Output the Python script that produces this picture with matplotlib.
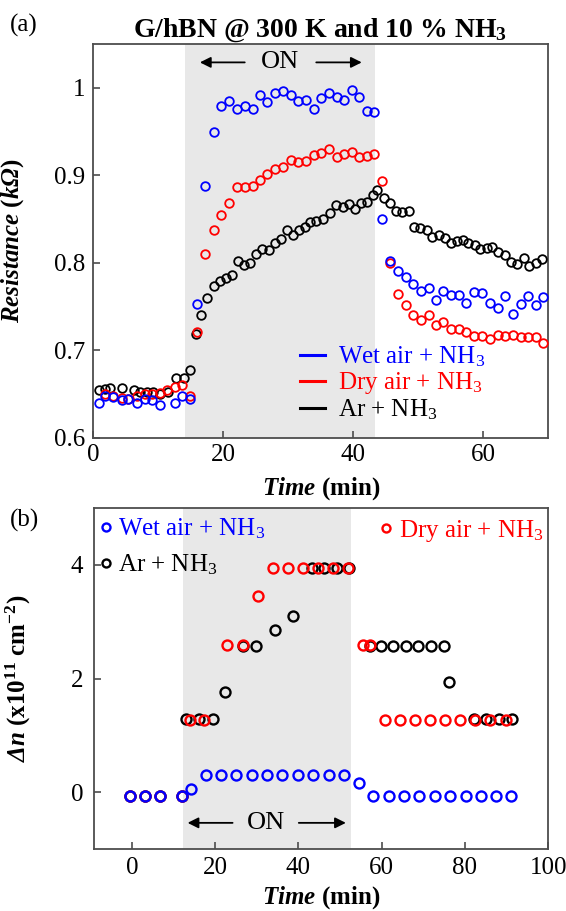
import matplotlib
matplotlib.use('Agg')
import matplotlib.pyplot as plt
from matplotlib.lines import Line2D

plt.rcParams['font.family'] = ['Liberation Serif', 'DejaVu Serif']
plt.rcParams['mathtext.fontset'] = 'custom'
plt.rcParams['mathtext.rm'] = 'Liberation Serif'
plt.rcParams['mathtext.it'] = 'Liberation Serif:italic'
plt.rcParams['mathtext.bf'] = 'Liberation Serif:bold'
plt.rcParams['mathtext.bfit'] = 'Liberation Serif:italic:bold'

# ---------------- panel (a) data ----------------
wet_t_a = [0.8, 1.8, 3.1, 4.4, 5.4, 6.7, 7.9, 9.0, 10.3, 12.6, 13.6, 14.9, 16.0,
           17.2, 18.5, 19.7, 20.9, 22.1, 23.3, 24.5, 25.7, 26.7, 27.9, 29.2, 30.4,
           31.5, 32.7, 33.9, 35.0, 36.3, 37.5, 38.6, 39.8, 40.9, 42.1, 43.2,
           44.4, 45.6, 46.8, 48.1, 49.2, 50.4, 51.6, 52.7, 53.8, 55.0, 56.3, 57.4,
           58.6, 59.8, 61.0, 62.2, 63.4, 64.6, 65.8, 66.9, 68.1, 69.2]
wet_r_a = [0.640, 0.648, 0.647, 0.643, 0.644, 0.640, 0.644, 0.643, 0.638, 0.640, 0.648, 0.644, 0.753,
           0.888, 0.950, 0.979, 0.985, 0.976, 0.979, 0.976, 0.992, 0.984, 0.994, 0.996, 0.992,
           0.985, 0.986, 0.976, 0.988, 0.994, 0.989, 0.986, 0.997, 0.990, 0.973, 0.972,
           0.850, 0.802, 0.791, 0.784, 0.776, 0.768, 0.771, 0.758, 0.768, 0.763, 0.763, 0.754,
           0.767, 0.766, 0.754, 0.748, 0.762, 0.742, 0.753, 0.762, 0.752, 0.761]

dry_t_a = [1.8, 3.1, 4.4, 5.4, 6.7, 7.9, 9.0, 10.3, 11.4, 12.6, 13.6, 14.9, 16.0,
           17.2, 18.5, 19.7, 20.9, 22.1, 23.3, 24.5, 25.7, 26.7, 27.9, 29.2, 30.4,
           31.5, 32.7, 33.9, 35.0, 36.3, 37.5, 38.6, 39.8, 40.9, 42.1, 43.2,
           44.4, 45.6, 46.8, 48.1, 49.2, 50.4, 51.6, 52.7, 53.8, 55.0, 56.3, 57.4,
           58.6, 59.8, 61.0, 62.2, 63.4, 64.6, 65.8, 66.9, 68.1, 69.2]
dry_r_a = [0.650, 0.648, 0.646, 0.645, 0.648, 0.650, 0.650, 0.651, 0.655, 0.658, 0.661, 0.648, 0.721,
           0.810, 0.838, 0.855, 0.868, 0.887, 0.887, 0.888, 0.895, 0.901, 0.907, 0.909, 0.917,
           0.915, 0.916, 0.923, 0.925, 0.930, 0.921, 0.924, 0.927, 0.921, 0.922, 0.924,
           0.894, 0.800, 0.765, 0.752, 0.741, 0.735, 0.740, 0.729, 0.732, 0.725, 0.725, 0.721,
           0.717, 0.717, 0.713, 0.718, 0.716, 0.718, 0.715, 0.715, 0.715, 0.708]

ar_t_a = [0.8, 1.8, 2.6, 4.4, 6.2, 7.2, 8.2, 9.2, 10.3, 11.5, 12.7, 13.9, 14.9,
          15.8, 16.6, 17.5, 18.5, 19.5, 20.4, 21.4, 22.2, 23.2, 24.1, 25.1, 26.0, 27.0,
          28.0, 28.9, 29.8, 30.7, 31.6, 32.6, 33.4, 34.3, 35.4, 36.4, 37.4, 38.4, 39.3,
          40.2, 41.2, 42.1, 43.1, 43.7,
          44.7, 45.6, 46.5, 47.5, 48.5, 49.4, 50.3, 51.3, 52.1, 53.2, 54.1, 55.0, 55.9,
          56.8, 57.7, 58.7, 59.5, 60.5, 61.4, 62.3, 63.3, 64.3, 65.2, 66.2, 67.1, 68.1, 69.1]
ar_r_a = [0.655, 0.656, 0.657, 0.657, 0.655, 0.653, 0.652, 0.652, 0.650, 0.653, 0.668, 0.669, 0.678,
          0.719, 0.741, 0.760, 0.774, 0.779, 0.783, 0.786, 0.802, 0.798, 0.800, 0.810, 0.816, 0.815,
          0.823, 0.827, 0.837, 0.832, 0.837, 0.841, 0.847, 0.848, 0.850, 0.857, 0.866, 0.864, 0.867,
          0.861, 0.868, 0.869, 0.877, 0.883,
          0.874, 0.868, 0.859, 0.858, 0.859, 0.841, 0.840, 0.837, 0.829, 0.832, 0.828, 0.823, 0.825,
          0.826, 0.823, 0.821, 0.816, 0.817, 0.818, 0.812, 0.809, 0.801, 0.799, 0.806, 0.797, 0.800, 0.805]

# ---------------- panel (b) data ----------------
wet_t_b = [-0.4, 3.2, 6.8, 12.1, 14.3, 17.8, 21.5, 25.1, 28.9, 32.5, 36.1, 39.9, 43.6,
           47.3, 50.9, 54.5, 58.0, 61.8, 65.4, 69.0, 72.7, 76.4, 80.2, 83.8, 87.5, 91.1]
wet_n_b = [-0.07, -0.07, -0.07, -0.07, 0.06, 0.31, 0.31, 0.31, 0.31, 0.31, 0.31, 0.31, 0.31,
           0.31, 0.31, 0.16, -0.07, -0.07, -0.07, -0.07, -0.07, -0.07, -0.07, -0.07, -0.07, -0.07]

dry_t_b = [-0.4, 3.2, 6.8, 12.1, 14.0, 17.4, 22.9, 26.6, 30.2, 33.8, 37.4, 41.0, 44.6,
           48.2, 51.8, 55.4, 57.2, 60.8, 64.4, 68.0, 71.6, 75.2, 78.8, 82.4, 86.0, 89.8]
dry_n_b = [-0.07, -0.07, -0.07, -0.07, 1.27, 1.27, 2.59, 2.59, 3.46, 3.94, 3.94, 3.94, 3.94,
           3.94, 3.94, 2.59, 2.59, 1.27, 1.27, 1.27, 1.27, 1.27, 1.27, 1.27, 1.27, 1.27]

ar_t_b = [-0.4, 3.2, 6.8, 12.1, 13.0, 16.2, 19.4, 22.3, 26.8, 29.9, 34.3, 38.6, 43.3, 46.1,
          49.2, 52.1, 57.2, 59.8, 62.8, 65.8, 68.7, 71.8, 75.0, 76.2, 82.2, 85.1, 88.1, 91.2]
ar_n_b = [-0.07, -0.07, -0.07, -0.07, 1.28, 1.28, 1.28, 1.77, 2.58, 2.58, 2.85, 3.10, 3.94, 3.94,
          3.94, 3.94, 2.58, 2.58, 2.58, 2.58, 2.58, 2.58, 2.58, 1.94, 1.28, 1.28, 1.28, 1.28]

labels = ['Wet air + NH$_3$', 'Dry air + NH$_3$', 'Ar + NH$_3$']
colors = ['#0000ff', '#ff0000', '#000000']
on_a = (14.1, 43.3)
on_b = (12.2, 52.6)

FS = 18
fig = plt.figure(figsize=(5.66, 9.11), dpi=100)
ax1 = fig.add_axes([93.3/566, 1-438/911, 455/566, 394/911])
ax2 = fig.add_axes([94.3/566, 1-849/911, 454/566, 341/911])

spine_c = '#4d4d4d'
for ax in (ax1, ax2):
    for s in ax.spines.values():
        s.set_color(spine_c)
        s.set_linewidth(1.3)
    ax.tick_params(direction='in', length=5, width=1.2, color=spine_c,
                   labelsize=FS, top=False, right=False)

# ---- panel a ----
ax1.axvspan(*on_a, color='#e8e8e8', zorder=0, lw=0)
mk = dict(ls='none', marker='o', mfc='none', ms=6.2, mew=1.3)
ax1.plot(ar_t_a, ar_r_a, color=colors[2], zorder=3, **mk)
ax1.plot(dry_t_a, dry_r_a, color=colors[1], zorder=4, **mk)
ax1.plot(wet_t_a, wet_r_a, color=colors[0], zorder=5, **mk)
ax1.set_xlim(0, 70)
ax1.set_ylim(0.6, 1.05)
ax1.set_xticks([0, 20, 40, 60])
ax1.set_yticks([0.6, 0.7, 0.8, 0.9, 1.0])
ax1.set_yticklabels(['0.6', '0.7', '0.8', '0.9', '1'])
ax1.tick_params(axis='x', pad=4)
ax1.tick_params(axis='y', pad=6)
ax1.set_xlabel(r'$\mathbfit{Time}$ (min)', fontsize=FS, fontweight='bold')
ax1.xaxis.set_label_coords(0.5, -0.095)
ax1.set_ylabel(r'$\mathbfit{Resistance}$ ($\mathbfit{k\Omega}$)', fontsize=FS, fontweight='bold')
ax1.yaxis.set_label_coords(-0.148, 0.5)

ya = 1.029
ax1.annotate('', xy=(16.4, ya), xytext=(23.3, ya),
             arrowprops=dict(arrowstyle='-|>', color='k', lw=1.3, mutation_scale=16, shrinkA=0, shrinkB=0))
ax1.annotate('', xy=(41.3, ya), xytext=(34.3, ya),
             arrowprops=dict(arrowstyle='-|>', color='k', lw=1.3, mutation_scale=16, shrinkA=0, shrinkB=0))
ax1.text(28.7, ya, 'ON', ha='center', va='center', fontsize=FS + 1)

handles_a = [Line2D([], [], color=c, lw=2.2) for c in colors]
leg = ax1.legend(handles_a, labels, loc='upper left', bbox_to_anchor=(0.455, 0.237),
                 frameon=False, fontsize=FS, handlelength=1.0, handletextpad=0.5,
                 labelspacing=0.05, borderpad=0, borderaxespad=0, labelcolor='linecolor')

fig.text(320/566, 1-30/911, 'G/hBN @ 300 K and 10 % NH$_\\mathbf{3}$', ha='center', va='center',
         fontsize=FS + 2, fontweight='bold')
fig.text(10/566, 1-25/911, '(a)', ha='left', va='center', fontsize=FS)

# ---- panel b ----
ax2.axvspan(*on_b, color='#e8e8e8', zorder=0, lw=0)
mk2 = dict(ls='none', marker='o', mfc='none', ms=7.2, mew=1.7)
l_ar, = ax2.plot(ar_t_b, ar_n_b, color=colors[2], zorder=3, **mk2)
l_dry, = ax2.plot(dry_t_b, dry_n_b, color=colors[1], zorder=4, **mk2)
l_wet, = ax2.plot(wet_t_b, wet_n_b, color=colors[0], zorder=5, **mk2)
ax2.set_xlim(-9, 100)
ax2.set_ylim(-1, 5)
ax2.set_xticks([0, 20, 40, 60, 80, 100])
ax2.set_yticks([0, 2, 4])
ax2.tick_params(axis='x', pad=6)
ax2.tick_params(axis='y', pad=8)
ax2.set_xlabel(r'$\mathbfit{Time}$ (min)', fontsize=FS, fontweight='bold')
ax2.xaxis.set_label_coords(0.5, -0.103)
ax2.set_ylabel(r'$\mathbfit{\Delta n}$ $\mathbf{(x10^{11}\ cm^{-2})}$', fontsize=FS, fontweight='bold')
ax2.yaxis.set_label_coords(-0.135, 0.5)

yb = -0.54
ax2.annotate('', xy=(13.4, yb), xytext=(24.2, yb),
             arrowprops=dict(arrowstyle='-|>', color='k', lw=1.3, mutation_scale=16, shrinkA=0, shrinkB=0))
ax2.annotate('', xy=(51.4, yb), xytext=(40.1, yb),
             arrowprops=dict(arrowstyle='-|>', color='k', lw=1.3, mutation_scale=16, shrinkA=0, shrinkB=0))
ax2.text(32.2, yb, 'ON', ha='center', va='center', fontsize=FS + 1)

legb1 = ax2.legend([l_wet, l_ar], [labels[0], labels[2]], loc='upper left', bbox_to_anchor=(0.0, 0.99),
                   frameon=False, fontsize=FS, handlelength=0.5, handletextpad=0.25,
                   labelspacing=0.45, borderpad=0, borderaxespad=0.2, labelcolor='linecolor', markerscale=0.8)
ax2.add_artist(legb1)
ax2.legend([l_dry], [labels[1]], loc='upper right', bbox_to_anchor=(1.0, 0.985),
           frameon=False, fontsize=FS, handlelength=0.5, handletextpad=0.25,
           borderpad=0, borderaxespad=0.2, labelcolor='linecolor', markerscale=0.8)

fig.text(10/566, 1-520/911, '(b)', ha='left', va='center', fontsize=FS)

fig.savefig('out.png', dpi=100)
